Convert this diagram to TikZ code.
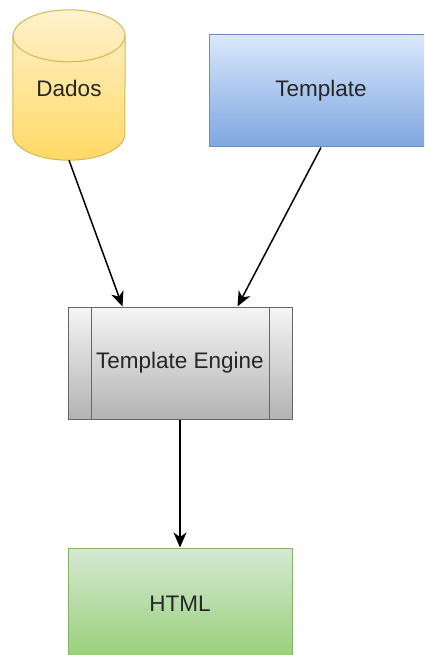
\documentclass[tikz,border=0pt]{standalone}
\usepackage{fontspec}
\setmainfont{Liberation Sans}
\usetikzlibrary{arrows.meta}

\definecolor{dadosTop}{HTML}{FFF2CC}
\definecolor{dadosBot}{HTML}{FFD966}
\definecolor{dadosLine}{HTML}{D6B656}
\definecolor{tplTop}{HTML}{DAE8FC}
\definecolor{tplBot}{HTML}{7EA6E0}
\definecolor{tplLine}{HTML}{6C8EBF}
\definecolor{engTop}{HTML}{F5F5F5}
\definecolor{engBot}{HTML}{B3B3B3}
\definecolor{engLine}{HTML}{666666}
\definecolor{htmlTop}{HTML}{D5E8D4}
\definecolor{htmlBot}{HTML}{97D077}
\definecolor{htmlLine}{HTML}{82B366}

\begin{document}
\begin{tikzpicture}[x=1pt, y=-1pt, >={Stealth[length=15pt, width=13pt, inset=4.5pt]},
  font=\fontsize{22.5}{27}\selectfont, text=black!85,
  box/.style={rectangle, minimum width=224pt, minimum height=112pt, inner sep=0pt, line width=1pt},
  flow/.style={->, line width=1.5pt}]
  \useasboundingbox (0,0) rectangle (424,655);
  \clip (0,0) rectangle (424,655);
  % ---------------------------------------------------------------- data store
  \node[minimum width=112pt, minimum height=150pt, inner sep=0pt] (dados) at (69,85) {};
  \draw[line width=1pt, draw=dadosLine, top color=dadosTop, bottom color=dadosBot]
    ([yshift=-26pt]dados.north west) -- ([yshift=26pt]dados.south west)
    arc[start angle=180, end angle=360, x radius=56pt, y radius=26pt]
    -- ([yshift=-26pt]dados.north east)
    arc[start angle=0, end angle=180, x radius=56pt, y radius=26pt] -- cycle;
  \draw[line width=1pt, draw=dadosLine] ([yshift=-26pt]dados.north west)
    arc[start angle=180, end angle=360, x radius=56pt, y radius=26pt];
  \node at (69,88) {Dados};
  % ---------------------------------------------------------------- template
  \node[box, draw=tplLine, top color=tplTop, bottom color=tplBot] (tpl) at (321,91) {Template};
  % ---------------------------------------------------------------- engine
  \node[box, draw=engLine, top color=engTop, bottom color=engBot] (engine) at (180,363) {Template Engine};
  \draw[line width=1pt, engLine] ([xshift=24pt]engine.north west) -- ([xshift=24pt]engine.south west)
    ([xshift=-23pt]engine.north east) -- ([xshift=-23pt]engine.south east);
  \coordinate (in1) at ([xshift=55pt]engine.north west);
  \coordinate (in2) at ([xshift=170pt]engine.north west);
  % ---------------------------------------------------------------- output
  \node[box, draw=htmlLine, top color=htmlTop, bottom color=htmlBot] (html) at (180,604) {HTML};
  % connectors
  \draw[flow] (dados.south) -- (in1);
  \draw[flow] (tpl.south) -- (in2);
  \draw[flow] (engine.south) -- (html.north);
\end{tikzpicture}
\end{document}
